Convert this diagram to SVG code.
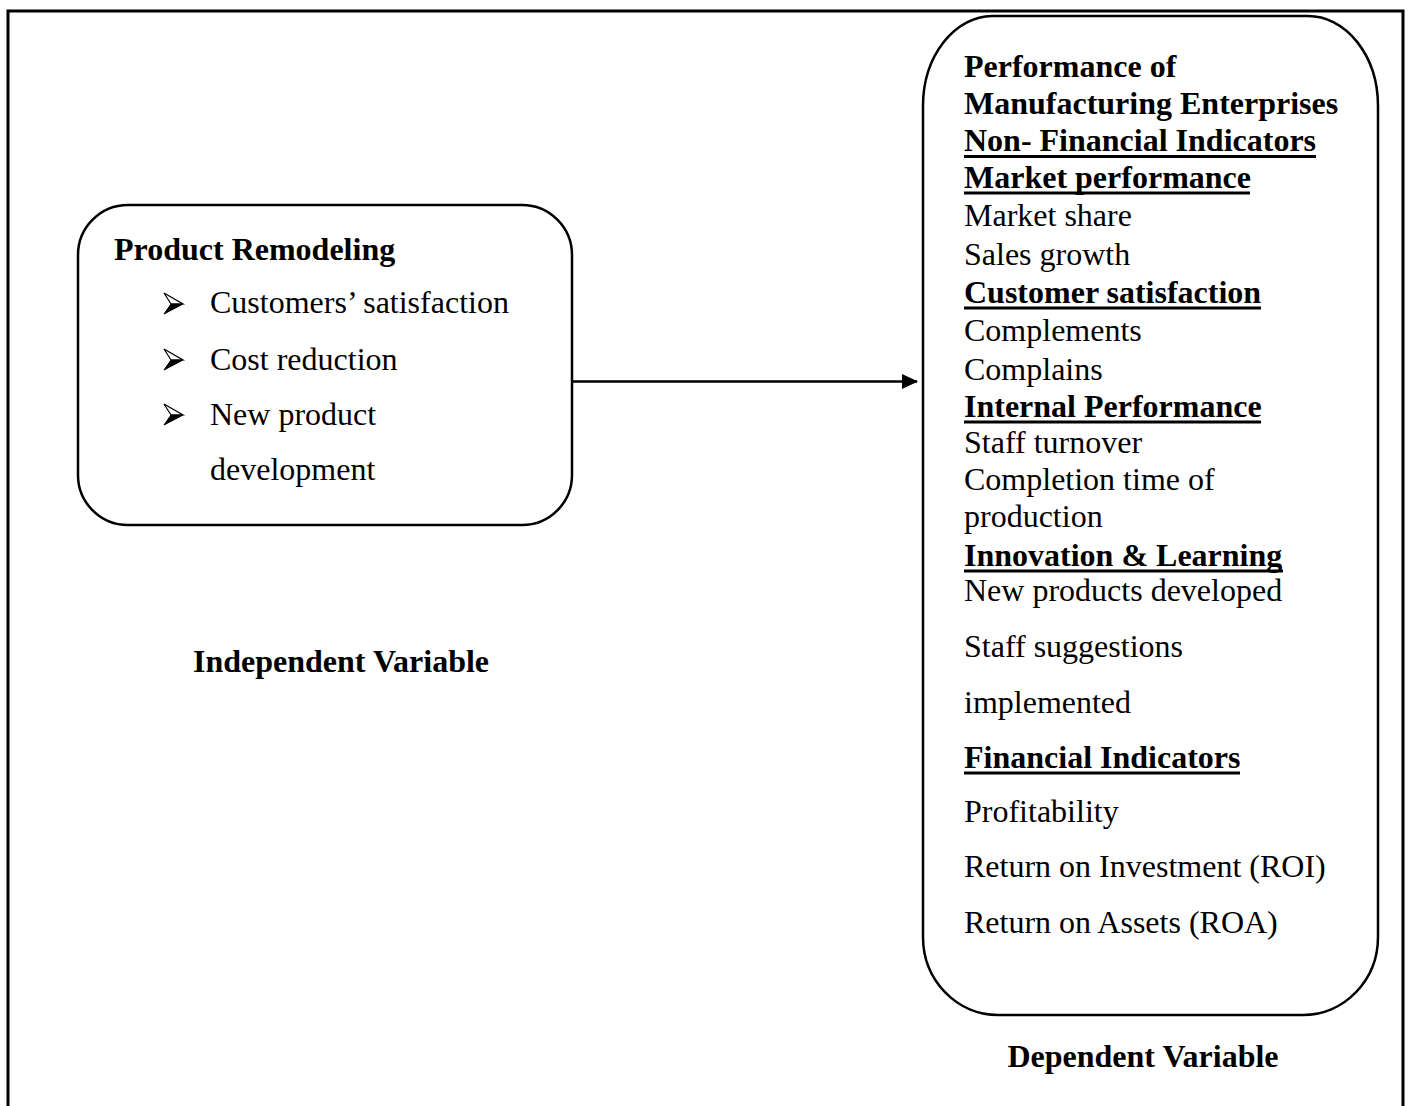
<svg xmlns="http://www.w3.org/2000/svg" width="1408" height="1106" viewBox="0 0 1408 1106">
<defs>
<style>
.t{font-family:"Liberation Serif","Times New Roman",serif;font-size:32px;fill:#000}
.b{font-weight:bold}
.ul{stroke:#000;stroke-width:3}
.box{fill:none;stroke:#000;stroke-width:2.5}
</style>
<marker id="ah" viewBox="0 0 16 16" refX="15" refY="8" markerWidth="16" markerHeight="16" markerUnits="userSpaceOnUse" orient="auto">
<path d="M0,0.5 L16,8 L0,15.5 Z" fill="#000"/>
</marker>
<g id="bullet">
<path d="M0,0 L19,11 L7,11 Z" fill="#fff" stroke="#000" stroke-width="1.2" stroke-linejoin="miter"/>
<path d="M7,11 L19,11 L0,21 Z" fill="#000" stroke="#000" stroke-width="1"/>
</g>
</defs>
<rect width="1408" height="1106" fill="#fff"/>
<path id="frame" d="M8,1106 L8,11 L1403,11 L1403,1106" fill="none" stroke="#000" stroke-width="3"/>

<g id="independent">
<rect class="box" x="78" y="205" width="494" height="320" rx="50" ry="50"/>
<text class="t b" x="114" y="260">Product Remodeling</text>
<use href="#bullet" x="164" y="293"/>
<text class="t" x="210" y="313">Customers’ satisfaction</text>
<use href="#bullet" x="164" y="349"/>
<text class="t" x="210" y="370">Cost reduction</text>
<use href="#bullet" x="164" y="404"/>
<text class="t" x="210" y="425">New product</text>
<text class="t" x="210" y="480">development</text>
</g>
<text id="label-independent" class="t b" x="341" y="672" text-anchor="middle">Independent Variable</text>

<g id="dependent">
<path class="box" d="M992,16 L1308,16 A70,90 0 0 1 1378,106 L1378,937 A75,78 0 0 1 1303,1015 L998,1015 A75,78 0 0 1 923,937 L923,106 A70,90 0 0 1 992,16 Z"/>
<text class="t b" x="964" y="77">Performance of</text>
<text class="t b" x="964" y="114">Manufacturing Enterprises</text>
<text class="t b" x="964" y="151">Non- Financial Indicators</text>
<line class="ul" x1="964" y1="156.5" x2="1316" y2="156.5"/>
<text class="t b" x="964" y="188">Market performance</text>
<line class="ul" x1="964" y1="193" x2="1250" y2="193"/>
<text class="t" x="964" y="226">Market share</text>
<text class="t" x="964" y="265">Sales growth</text>
<text class="t b" x="964" y="303">Customer satisfaction</text>
<line class="ul" x1="964" y1="308" x2="1261" y2="308"/>
<text class="t" x="964" y="341">Complements</text>
<text class="t" x="964" y="380">Complains</text>
<text class="t b" x="964" y="417">Internal Performance</text>
<line class="ul" x1="964" y1="422" x2="1261" y2="422"/>
<text class="t" x="964" y="453">Staff turnover</text>
<text class="t" x="964" y="490">Completion time of</text>
<text class="t" x="964" y="527">production</text>
<text class="t b" x="964" y="566">Innovation &amp; Learning</text>
<line class="ul" x1="964" y1="571" x2="1283" y2="571"/>
<text class="t" x="964" y="601">New products developed</text>
<text class="t" x="964" y="657">Staff suggestions</text>
<text class="t" x="964" y="713">implemented</text>
<text class="t b" x="964" y="768">Financial Indicators</text>
<line class="ul" x1="964" y1="773" x2="1240" y2="773"/>
<text class="t" x="964" y="822">Profitability</text>
<text class="t" x="964" y="877">Return on Investment (ROI)</text>
<text class="t" x="964" y="933">Return on Assets (ROA)</text>
</g>
<text id="label-dependent" class="t b" x="1143" y="1067" text-anchor="middle">Dependent Variable</text>

<g id="connectors">
<line x1="572" y1="381.5" x2="917" y2="381.5" stroke="#000" stroke-width="2.5" marker-end="url(#ah)"/>
</g>
</svg>
